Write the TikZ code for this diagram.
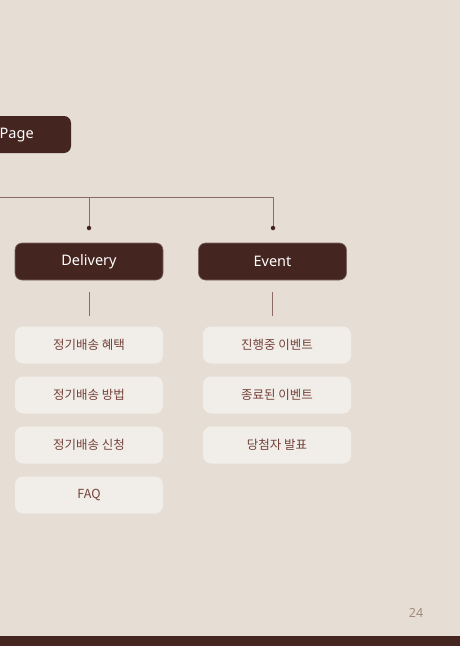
\documentclass[tikz,border=0pt]{standalone}
\usepackage{fontspec}
\setmainfont{Noto Sans}
\newfontfamily\krfont{Noto Sans CJK KR}
\usepackage{xcolor}
\definecolor{paper}{HTML}{E6DED5}
\definecolor{cocoa}{HTML}{45251F}
\definecolor{cream}{HTML}{F1EDE8}
\definecolor{rosewood}{HTML}{74423A}
\definecolor{wire}{HTML}{8A6C62}
\definecolor{pagenum}{HTML}{A38B7C}

\tikzset{
  headbox/.style={fill=cocoa, draw=cocoa!70!white, line width=0.6pt, rounded corners=7pt,
    minimum width=148pt, minimum height=37pt, text=white, font=\fontsize{14.5}{16}\selectfont},
  itembox/.style={fill=cream, rounded corners=8pt, minimum width=148pt, minimum height=37pt,
    text=rosewood, font=\krfont\fontsize{12.5}{14}\selectfont},
  wireline/.style={draw=wire, line width=0.9pt},
  pin/.style={fill=cocoa, circle, inner sep=0pt, minimum size=4.5pt}
}

\begin{document}
\begin{tikzpicture}[x=1pt, y=-1pt]
            % sfondo
            \fill[paper] (0,0) rectangle (460,646);
            \useasboundingbox (0,0) rectangle (460,646);
            \fill[cocoa] (0,636) rectangle (460,646);

            % Page
            \fill[cocoa, rounded corners=7pt] (-30,116) rectangle (71,153);
            \node[anchor=west, text=white, font=\fontsize{14.5}{16}\selectfont, inner sep=0pt] (page) at (-0.5,135.5) {Page};

            % rami
            \coordinate (left) at (0,197);
            \node[pin] (pinD) at (89,228) {};
            \node[pin] (pinE) at (273,228) {};
            \draw[wireline] (left) -- (pinE |- left) -- (pinE);
            \draw[wireline] (pinD |- left) -- (pinD);

            % Delivery
            \node[headbox] (delivery) at (89,261.5) {Delivery};
            \node[itembox] (d1) at (89,345) {정기배송 혜택};
            \node[itembox] (d2) at (89,395) {정기배송 방법};
            \node[itembox] (d3) at (89,445) {정기배송 신청};
            \node[itembox] (d4) at (89,495) {FAQ};

            % Event
            \node[headbox] (event) at (272.5,261.5) {Event};
            \node[itembox] (e1) at (277,345) {진행중 이벤트};
            \node[itembox] (e2) at (277,395) {종료된 이벤트};
            \node[itembox] (e3) at (277,445) {당첨자 발표};

            \draw[wireline] ([yshift=-12pt]delivery.south) -- ([yshift=10pt]d1.north);
            \draw[wireline] ([yshift=-12pt]event.south) -- ([yshift=10pt]d1.north -| event);

            \node[text=pagenum, font=\fontsize{12.5}{14}\selectfont] (num) at (416,613) {24};
        \end{tikzpicture}
\end{document}
